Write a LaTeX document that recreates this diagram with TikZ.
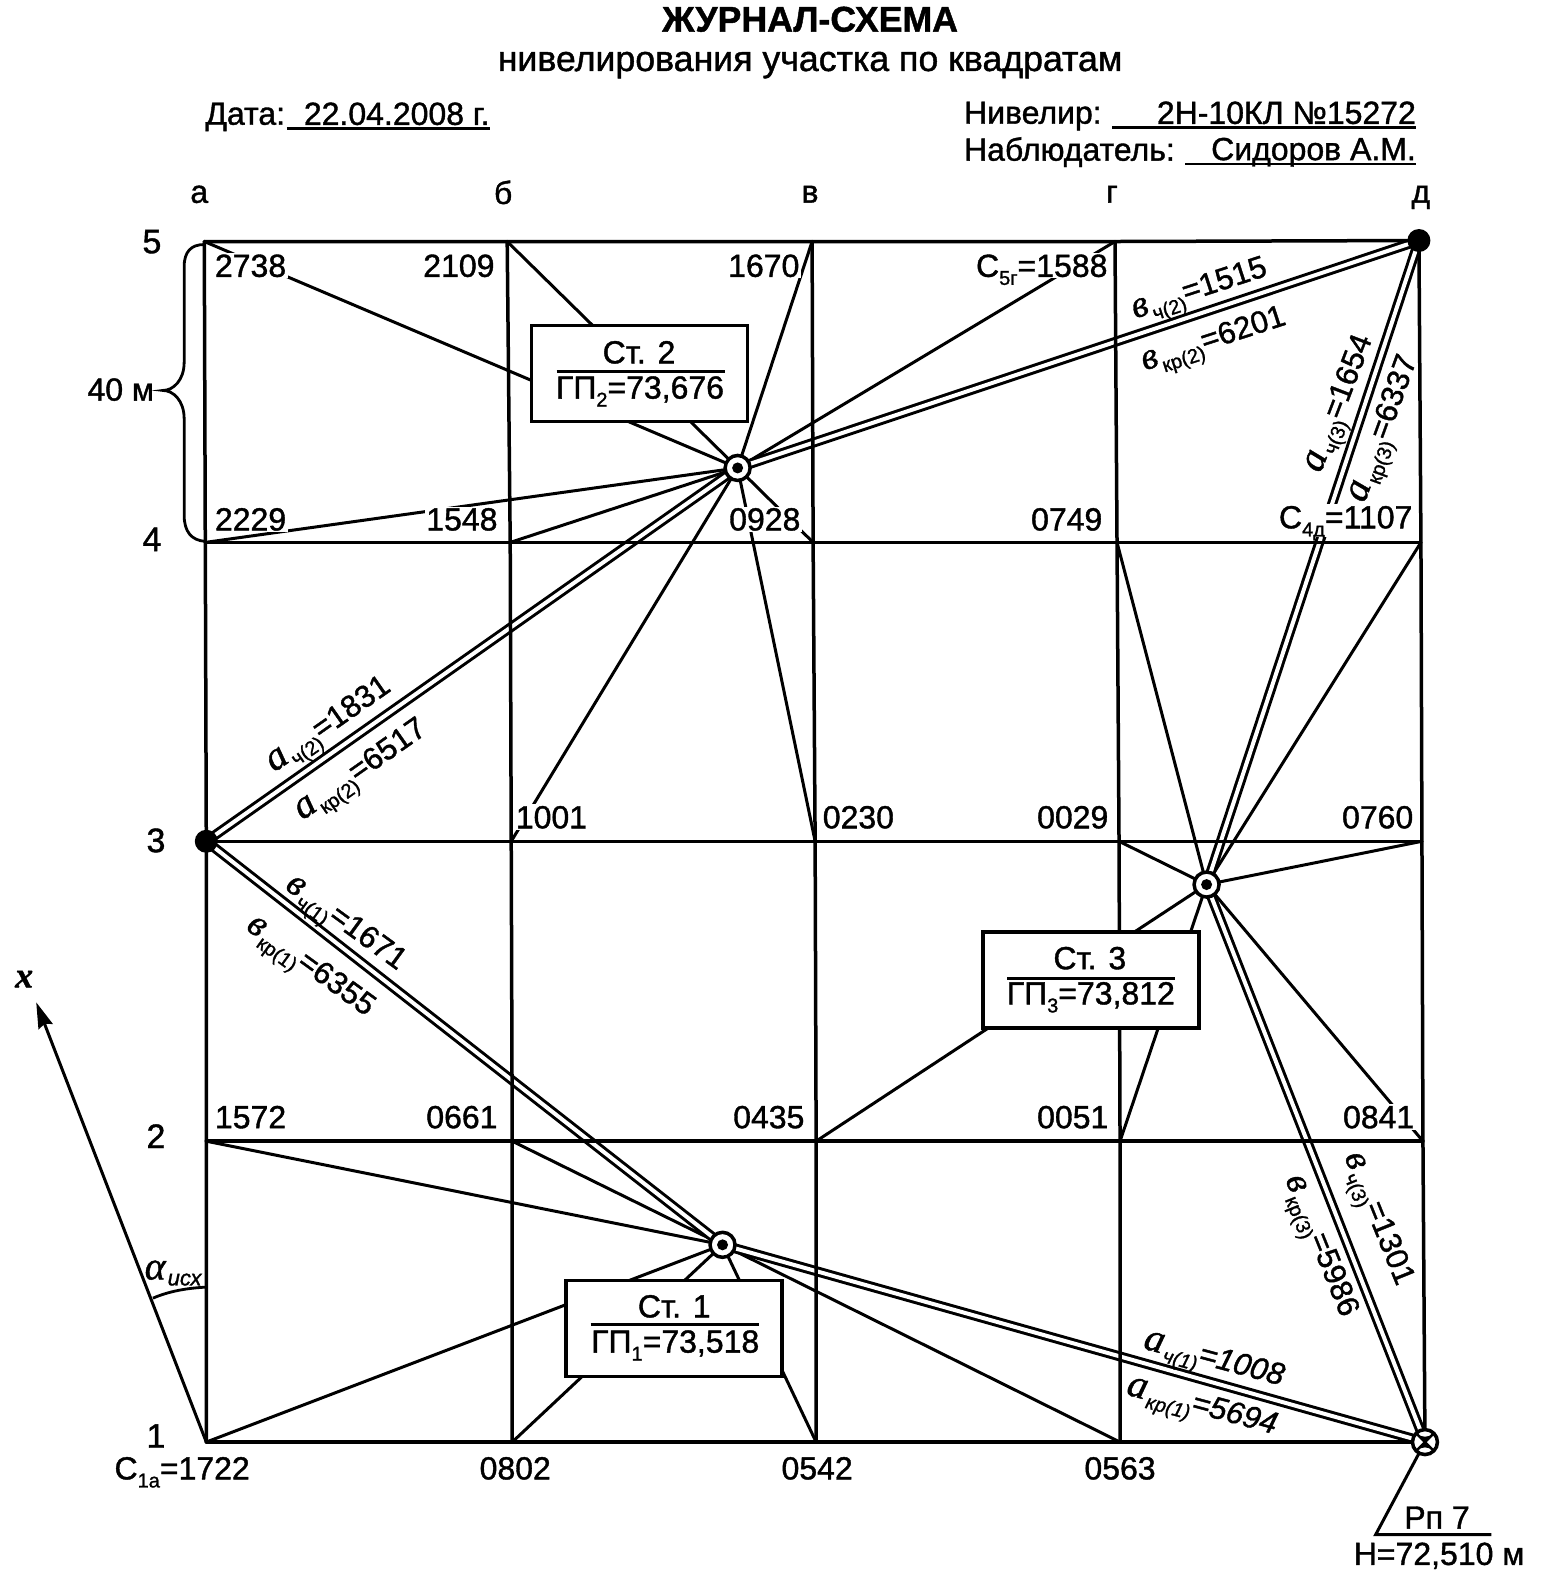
\documentclass[tikz,border=0pt]{standalone}
\usepackage{fontspec}
\setmainfont[RawFeature={embolden=1.2}]{Liberation Sans}
\newfontfamily\scr[RawFeature={embolden=1.0}]{Liberation Serif}
\usetikzlibrary{arrows.meta}
\newcommand{\sbs}[1]{\raisebox{-8pt}{\fontsize{20}{20}\selectfont #1}}
\newcommand{\vB}{{\scr\itshape\fontsize{38}{38}\selectfont в}\hspace{2pt}}
\newcommand{\aA}{{\scr\itshape\fontsize{40}{40}\selectfont а}\hspace{2pt}}
\tikzset{
  every node/.style={inner sep=0pt,outer sep=0pt,text depth=0pt},
  gridline/.style={line width=3.5pt,line cap=round},
  sight/.style={line width=3pt},
  twin/.style={line width=3pt,double=white,double distance=4pt},
  num/.style={font=\fontsize{32}{32}\selectfont,fill=white,inner sep=1.5pt},
  plain/.style={font=\fontsize{32}{32}\selectfont},
  along/.style={font=\fontsize{31}{31}\selectfont},
  stbox/.style={draw,fill=white,line width=3.5pt,minimum width=216pt,minimum height=96pt},
  station/.style={circle,draw,fill=white,line width=3.5pt,minimum size=25pt},
  dot/.style={circle,fill=black,minimum size=#1},
  rowlab/.style={font=\fontsize{34}{34}\selectfont},
}
\begin{document}
\begin{tikzpicture}[x=1.0063pt,y=-1.0063pt]
\useasboundingbox (0,0) rectangle (1542.3,1566.1);
% grid points
\coordinate (a5) at (203,240); \coordinate (b5) at (504,240); \coordinate (c5) at (807,240); \coordinate (d5) at (1108,240); \coordinate (e5) at (1410,239);
\coordinate (a4) at (204,539); \coordinate (b4) at (507,539); \coordinate (c4) at (808,539); \coordinate (d4) at (1110,539); \coordinate (e4) at (1412,539);
\coordinate (a3) at (205,836); \coordinate (b3) at (508,836); \coordinate (c3) at (810,836); \coordinate (d3) at (1112,836); \coordinate (e3) at (1413,836);
\coordinate (a2) at (205,1134); \coordinate (b2) at (509,1134); \coordinate (c2) at (811,1134); \coordinate (d2) at (1113,1134); \coordinate (e2) at (1414,1134);
\coordinate (a1) at (205,1433); \coordinate (b1) at (509,1433); \coordinate (c1) at (811,1433); \coordinate (d1) at (1113,1433); \coordinate (e1) at (1416,1433);
\coordinate (s2c) at (733,465); \coordinate (s3c) at (1199,879); \coordinate (s1c) at (718,1237);
% sight lines
\foreach \p in {a5,b5,c5,d5,a4,b4,c4,b3,c3} \draw[sight] (\p) -- (s2c);
\foreach \p in {d4,e4,d3,e3,c2,d2,e2} \draw[sight] (\p) -- (s3c);
\foreach \p in {a2,b2,a1,b1,c1,d1} \draw[sight] (\p) -- (s1c);
\draw[twin] (a3) -- (s2c);
\draw[twin] (s2c) -- (e5);
\draw[twin] (s3c) -- (e5);
\draw[twin] (s3c) -- (e1);
\draw[twin] (a3) -- (s1c);
\draw[twin] (s1c) -- (e1);
% point labels
\node[num] (n2738) at (249,264) {2738};
\node[num] (n2109) at (456,264) {2109};
\node[num] (n1670) at (759,264) {1670};
\node[num,anchor=east] (n1588) at (1102,264) {С\sbs{5г}=1588};
\node[num] (n2229) at (249,516) {2229};
\node[num] (n1548) at (459,516) {1548};
\node[num] (n0928) at (760,516) {0928};
\node[num] (n0749) at (1060,516) {0749};
\node[num,anchor=base east,text depth=7pt] (n1107) at (1405,525) {С\sbs{4д}=1107};
\node[num] (n1001) at (548,812) {1001};
\node[num] (n0230) at (853,812) {0230};
\node[num] (n0029) at (1066,812) {0029};
\node[num] (n0760) at (1369,812) {0760};
\node[num] (n1572) at (249,1110) {1572};
\node[num] (n0661) at (459,1110) {0661};
\node[num] (n0435) at (764,1110) {0435};
\node[num] (n0051) at (1066,1110) {0051};
\node[num] (n0841) at (1370,1110) {0841};
\node[plain] (n1722) at (181,1459) {С\sbs{1а}=1722};
\node[plain] (n0802) at (512,1459) {0802};
\node[plain] (n0542) at (812,1459) {0542};
\node[plain] (n0563) at (1113,1459) {0563};
% grid
\foreach \r in {5,4,3,2,1} \draw[gridline] (a\r) -- (b\r) -- (c\r) -- (d\r) -- (e\r);
\foreach \c in {a,b,c,d,e} \draw[gridline] (\c5) -- (\c4) -- (\c3) -- (\c2) -- (\c1);
% station boxes
\node[stbox] (box2) at (635.5,371) {};
\node[plain] (t2a) at (635,350) {Ст. 2};
\node[plain] (t2b) at (636,385) {ГП\sbs{2}=73,676};
\draw[line width=3pt] (553,369) -- (720,369);
\node[stbox] (box3) at (1084,974) {};
\node[plain] (t3a) at (1083,952) {Ст. 3};
\node[plain] (t3b) at (1084,987) {ГП\sbs{3}=73,812};
\draw[line width=3pt] (1001,972) -- (1168,972);
\node[stbox] (box1) at (670,1320) {};
\node[plain] (t1a) at (670,1298) {Ст. 1};
\node[plain] (t1b) at (671,1333) {ГП\sbs{1}=73,518};
\draw[line width=3pt] (587,1316) -- (754,1316);
% stations
\foreach \s in {2,3,1} {
  \node[station] (s\s) at (s\s c) {};
  \node[dot=11pt] (s\s d) at (s\s c) {};
}
\node[dot=23pt] (e5d) at (e5) {};
\node[dot=23pt] (a3d) at (a3) {};
% benchmark
\node[station] (rp) at (e1) {};
\fill (e1) -- ++(-9,-9) arc[start angle=225,end angle=315,radius=12.7,y radius=-12.7] -- cycle;
\fill (e1) -- ++(-9,9) arc[start angle=135,end angle=45,radius=12.7,y radius=-12.7] -- cycle;
\draw[line width=2.5pt] (e1) ++(-9,-9) -- ++(18,18) (e1) ++(-9,9) -- ++(18,-18);
\coordinate (rpk) at (1367,1525);
\coordinate (rpe) at (1482,1525);
\draw[line width=3pt] (rp) -- (rpk) -- (rpe);
\node[plain] (rpt) at (1428,1508) {Рп 7};
\node[plain] (rph) at (1430,1544) {Н=72,510 м};
% along-line labels
\node[along,rotate=18] (l1) at (1191,285) {\vB\sbs{ч(2)}=1515};
\node[along,rotate=18] (l2) at (1205,335) {\vB\sbs{кр(2)}=6201};
\node[along,rotate=69] (l3) at (1328,400) {\aA\sbs{ч(3)}=1654};
\node[along,rotate=70] (l4) at (1372,425) {\aA\sbs{кр(3)}=6337};
\node[along,rotate=35] (l5) at (325,718) {\aA\sbs{ч(2)}=1831};
\node[along,rotate=35] (l6) at (357,763) {\aA\sbs{кр(2)}=6517};
\node[along,rotate=-36] (l7) at (345,915) {\vB\sbs{ч(1)}=1671};
\node[along,rotate=-36] (l8) at (310,958) {\vB\sbs{кр(1)}=6355};
\node[along,rotate=-15,font=\fontsize{31}{31}\selectfont\itshape] (l9) at (1207,1348) {\aA\sbs{ч(1)}=1008};
\node[along,rotate=-15,font=\fontsize{31}{31}\selectfont\itshape] (l10) at (1195,1395) {\aA\sbs{кр(1)}=5694};
\node[along,rotate=-68] (l11) at (1372,1210) {\vB\sbs{ч(3)}=1301};
\node[along,rotate=-68] (l12) at (1315,1237) {\vB\sbs{кр(3)}=5986};
% column and row labels
\node[plain] (ca) at (198,193) {а};
\node[plain] (cb) at (500,191) {б};
\node[plain] (cc) at (805,193) {в};
\node[plain] (cd) at (1105,193) {г};
\node[plain] (ce) at (1412,193) {д};
\node[rowlab] (r5) at (151,240) {5};
\node[rowlab] (r4) at (151,536) {4};
\node[rowlab] (r3) at (155,835) {3};
\node[rowlab] (r2) at (155,1129) {2};
\node[rowlab] (r1) at (155,1427) {1};
% 40 m brace
\draw[line width=2.8pt] (203,243) .. controls (190,243) and (183,250) .. (183,265) -- (183,360) .. controls (183,378) and (172,388) .. (162,388) .. controls (172,388) and (183,398) .. (183,416) -- (183,512) .. controls (183,528) and (190,537) .. (204,538);
\node[plain] (m40) at (120,387) {40 м};
% x axis
\coordinate (xt) at (36,996);
\draw[line width=3pt,-{Stealth[length=26pt,width=15pt,inset=3pt]}] (a1) -- (xt);
\node[font=\scr\itshape\bfseries\fontsize{36}{36}\selectfont] (xl) at (24,973) {x};
\draw[line width=2.8pt] (152,1290) .. controls (168,1283) and (186,1280) .. (205,1279);
\node[font=\scr\itshape\fontsize{40}{40}\selectfont] (al) at (172,1262) {α\hspace{2pt}\raisebox{-6pt}{\rmfamily\fontsize{22}{22}\selectfont\itshape исх}};
% header
\node[font=\bfseries\fontsize{35.7}{36}\selectfont] (title) at (805,19) {ЖУРНАЛ-СХЕМА};
\node[font=\fontsize{35.7}{36}\selectfont] (sub) at (805,61) {нивелирования участка по квадратам};
\node[plain,anchor=west] (dl) at (204,113) {Дата:};
\node[plain,anchor=west] (dv) at (302,113) {22.04.2008 г.};
\draw[line width=2.8pt] (285,128) -- (487,128);
\node[plain,anchor=west] (nl) at (958,112) {Нивелир:};
\node[plain,anchor=east] (nv) at (1407,112) {2Н-10КЛ №15272};
\draw[line width=2.8pt] (1105,127) -- (1407,127);
\node[plain,anchor=west] (ol) at (958,148) {Наблюдатель:};
\node[plain,anchor=east] (ov) at (1407,148) {Сидоров А.М.};
\draw[line width=2.8pt] (1178,163) -- (1407,163);
\end{tikzpicture}
\end{document}
